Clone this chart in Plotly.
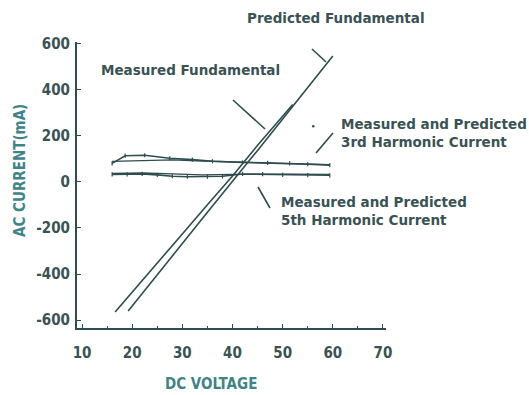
import plotly.graph_objects as go

# ---- data ----
meas_fund_v = [16.6, 20, 25, 30, 35, 40, 45, 50, 52]
meas_fund_i = [-565, -480, -352, -226, -100, 25, 158, 288, 335]

pred_fund_v = [19.2, 25, 30, 35, 40, 45, 50, 55, 60]
pred_fund_i = [-560, -405, -268, -132, 0, 136, 272, 408, 545]

h3_meas_v = [16, 18.6, 22.5, 27.5, 32, 36, 42, 47, 51.4, 55, 59.4]
h3_meas_i = [80, 113, 115, 102, 96, 89, 84, 82, 80, 76, 72]
h3_pred_v = [16, 22, 28, 34, 40, 46, 52, 59.4]
h3_pred_i = [88, 92, 95, 90, 86, 84, 80, 74]

h5_meas_v = [16, 19, 22, 25, 28, 31, 35, 38, 42, 46, 50, 55, 59.4]
h5_meas_i = [32, 32, 34, 30, 24, 22, 22, 24, 34, 33, 30, 29, 28]
h5_pred_v = [16, 22, 28, 34, 40, 46, 52, 59.4]
h5_pred_i = [36, 38, 34, 30, 32, 34, 33, 32]

x_ticks = [10, 20, 30, 40, 50, 60, 70]
y_ticks = [-600, -400, -200, 0, 200, 400, 600]
y_tick_labels = ["-600", "-400", "-200", "0", "200", "400", "600"]

# ---- styling ----
LINE = "#2f4c4e"
TEXT = "#3a5254"
TITLE = "#3f8486"
FONT = "DejaVu Sans, sans-serif"
FONT_C = "DejaVu Sans Condensed, DejaVu Sans, sans-serif"

W, H = 529, 395
L, R, T, B = 77, 386, 42, 328


def px(xp):
    return (xp - L) / (R - L)


def py(yp):
    return (B - yp) / (B - T)


fig = go.Figure()


def add_line(x, y, width=1.6, markers=False):
    fig.add_trace(go.Scatter(
        x=x, y=y, mode="lines+markers" if markers else "lines",
        line=dict(color=LINE, width=width),
        marker=dict(color=LINE, size=3, symbol="line-ns", line=dict(color=LINE, width=1.2)),
        showlegend=False, hoverinfo="skip"))


add_line(meas_fund_v, meas_fund_i)
add_line(pred_fund_v, pred_fund_i)
add_line(h3_pred_v, h3_pred_i, width=1.3)
add_line(h3_meas_v, h3_meas_i, markers=True)
add_line(h5_pred_v, h5_pred_i, width=1.3)
add_line(h5_meas_v, h5_meas_i, markers=True)

annotations = []


def label(text, xp, yp, size=13.5, color=TEXT, anchor="left", angle=0, family=FONT):
    annotations.append(dict(
        text=text, x=px(xp), y=py(yp), xref="paper", yref="paper",
        xanchor=anchor, yanchor="middle", showarrow=False, textangle=angle,
        font=dict(family=family, size=size, color=color, weight="bold"), align="left"))


label("Predicted Fundamental", 245, 18)
label("Measured Fundamental", 99, 70)
label("Measured and Predicted<br>3rd Harmonic Current", 339, 133)
label("Measured and Predicted<br>5th Harmonic Current", 279, 211)
label("DC VOLTAGE", 211, 384, size=15, color=TITLE, anchor="center", family=FONT_C)
label("AC CURRENT(mA)", 20, 171, size=15, color=TITLE, anchor="center", angle=-90, family=FONT_C)

shapes = []


def pointer(x0, y0, x1, y1):
    shapes.append(dict(type="line", xref="paper", yref="paper",
                       x0=px(x0), y0=py(y0), x1=px(x1), y1=py(y1),
                       line=dict(color=LINE, width=1.6)))


pointer(312, 49, 326, 62)
pointer(233, 100, 265, 129)
pointer(316, 153, 333, 133)
pointer(258, 187, 270, 208)
shapes.append(dict(type="circle", xref="paper", yref="paper",
                   x0=px(312), y0=py(125), x1=px(314.5), y1=py(127.5),
                   fillcolor=LINE, line=dict(width=0)))

fig.update_layout(
    width=W, height=H,
    margin=dict(l=L, r=W - R, t=T, b=H - B),
    paper_bgcolor="white", plot_bgcolor="white",
    annotations=annotations, shapes=shapes,
    font=dict(family=FONT, color=TEXT, size=12),
    xaxis=dict(range=[9.0, 70.6], tickvals=x_ticks, ticks="inside", ticklen=4,
               tickcolor=LINE, showline=True, linecolor=LINE, linewidth=2,
               showgrid=False, zeroline=False, ticklabelstandoff=10,
               tickfont=dict(family=FONT_C, size=15, color=TEXT, weight="bold"),
               minor=dict(ticks="inside", ticklen=2, dtick=5, tickcolor=LINE)),
    yaxis=dict(range=[-634, 606], tickvals=y_ticks, ticktext=y_tick_labels,
               ticks="inside", ticklen=4,
               tickcolor=LINE, showline=True, linecolor=LINE, linewidth=2,
               showgrid=False, zeroline=False, ticklabelstandoff=2,
               tickfont=dict(family=FONT_C, size=15, color=TEXT, weight="bold")),
)

fig.write_html("out.html", post_script="document.body.style.margin='0';",
               config={"displayModeBar": False})
